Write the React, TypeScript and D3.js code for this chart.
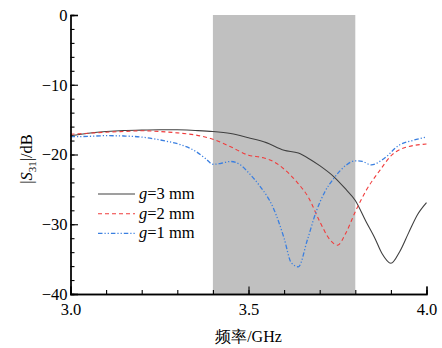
import * as d3 from "d3";
import { useEffect, useRef } from "react";

// frequency (GHz) / |S31| (dB)
const freqG3 = [3.0, 3.05, 3.1, 3.15, 3.2, 3.25, 3.3, 3.35, 3.4, 3.45, 3.5, 3.55, 3.6, 3.64, 3.67, 3.7, 3.74, 3.77, 3.8, 3.83, 3.855, 3.875, 3.9, 3.925, 3.95, 3.975, 4.0];
const s31G3 = [-17.3, -16.95, -16.7, -16.55, -16.5, -16.45, -16.45, -16.55, -16.7, -17.0, -17.6, -18.3, -19.4, -19.8, -20.6, -21.6, -23.2, -24.8, -26.6, -29.6, -32.0, -34.2, -35.6, -33.9, -31.2, -28.6, -26.9];

const freqG2 = [3.0, 3.05, 3.1, 3.15, 3.2, 3.25, 3.3, 3.35, 3.4, 3.45, 3.5, 3.54, 3.57, 3.6, 3.635, 3.67, 3.7, 3.73, 3.75, 3.775, 3.8, 3.83, 3.87, 3.9, 3.94, 4.0];
const s31G2 = [-17.1, -16.95, -16.8, -16.7, -16.6, -16.7, -16.9, -17.2, -17.8, -18.9, -20.1, -20.45, -21.0, -22.1, -23.9, -26.3, -29.6, -32.3, -33.0, -31.1, -28.2, -25.2, -22.2, -20.2, -19.0, -18.5];

const freqG1 = [3.0, 3.05, 3.1, 3.15, 3.2, 3.24, 3.27, 3.31, 3.35, 3.38, 3.4, 3.42, 3.45, 3.48, 3.5, 3.53, 3.57, 3.6, 3.62, 3.64, 3.665, 3.69, 3.715, 3.74, 3.775, 3.8, 3.82, 3.845, 3.88, 3.925, 3.96, 4.0];
const s31G1 = [-17.45, -17.4, -17.3, -17.35, -17.5, -17.8, -18.1, -18.6, -19.5, -20.6, -21.4, -21.3, -21.0, -21.6, -22.6, -24.4, -27.7, -32.0, -35.5, -36.1, -32.3, -28.2, -25.3, -23.4, -21.5, -20.9, -21.0, -21.5, -20.6, -18.6, -18.0, -17.5];

const seriesNames = ["3", "2", "1"];
const band = [3.4, 3.8];
const xTicks = [3.0, 3.5, 4.0];
const yTicks = [0, -10, -20, -30, -40];

const FONT = "Liberation Serif, serif";

export default function App() {
  const ref = useRef<SVGSVGElement | null>(null);

  useEffect(() => {
    if (!ref.current) return;
    const svg = d3.select(ref.current);
    svg.selectAll("*").remove();

    const left = 70.5, right = 426.5, top = 15, bottom = 294;
    const x = d3.scaleLinear().domain([3.0, 4.0]).range([left, right]);
    const y = d3.scaleLinear().domain([-40, 0]).range([bottom, top]);

    // shaded band
    svg
      .append("rect")
      .attr("x", x(band[0]))
      .attr("y", y(0))
      .attr("width", x(band[1]) - x(band[0]))
      .attr("height", y(-40) - y(0))
      .attr("fill", "#c0c0c0");

    const series = [
      { f: freqG3, v: s31G3, color: "#404040", dash: null as string | null, width: 1.1 },
      { f: freqG2, v: s31G2, color: "#f03c3c", dash: "4,3", width: 1.1 },
      { f: freqG1, v: s31G1, color: "#3a7fe0", dash: "4.5,2,1.2,2,1.2,2", width: 1.3 },
    ];

    const line = d3
      .line<[number, number]>()
      .x((d) => x(d[0]))
      .y((d) => y(d[1]))
      .curve(d3.curveMonotoneX);

    series.forEach((s) => {
      const pts = s.f.map((f, i) => [f, s.v[i]] as [number, number]);
      svg
        .append("path")
        .attr("d", line(pts))
        .attr("fill", "none")
        .attr("stroke", s.color)
        .attr("stroke-width", s.width)
        .attr("stroke-dasharray", s.dash);
    });

    // axes
    const gx = svg.append("g").attr("transform", `translate(0,${bottom})`);
    gx.call(
      d3.axisBottom(x).tickValues(d3.range(3.0, 4.001, 0.1)).tickSize(-4).tickFormat(() => "")
    );
    gx.call((g) =>
      g
        .append("g")
        .call(
          d3
            .axisBottom(x)
            .tickValues(xTicks)
            .tickSize(-7.5)
            .tickPadding(9)
            .tickFormat((d) => d3.format(".1f")(d as number))
        )
    );

    const gy = svg.append("g").attr("transform", `translate(${left},0)`);
    gy.call(
      d3.axisLeft(y).tickValues(d3.range(-40, 0.001, 2)).tickSize(-4).tickFormat(() => "")
    );
    gy.call((g) =>
      g
        .append("g")
        .call(
          d3
            .axisLeft(y)
            .tickValues(yTicks)
            .tickSize(-7.5)
            .tickPadding(3)
            .tickFormat((d) => ((d as number) < 0 ? "\u2212" + Math.abs(d as number) : String(d)))
        )
    );

    svg.selectAll("g").attr("font-family", FONT);
    svg.selectAll(".domain").attr("stroke", "#000").attr("stroke-width", 1.3);
    svg.selectAll(".tick line").attr("stroke", "#000").attr("stroke-width", 1.1);
    svg
      .selectAll(".tick text")
      .attr("fill", "#000")
      .attr("font-family", FONT)
      .attr("font-size", 16.5);

    // axis titles
    svg
      .append("text")
      .attr("x", (left + right) / 2)
      .attr("y", 342)
      .attr("text-anchor", "middle")
      .attr("font-family", FONT)
      .attr("font-size", 16)
      .text("频率/GHz");

    const yt = svg
      .append("text")
      .attr("transform", `translate(32,159) rotate(-90)`)
      .attr("text-anchor", "middle")
      .attr("font-family", FONT)
      .attr("font-size", 16.5);
    yt.append("tspan").text("|");
    yt.append("tspan").attr("font-style", "italic").text("S");
    yt.append("tspan").attr("dy", 4).attr("font-size", 11).text("31");
    yt.append("tspan").attr("dy", -4).text("|/dB");

    // legend
    const lg = svg.append("g").attr("font-family", FONT);
    series.forEach((s, i) => {
      const ly = 194 + i * 19.7;
      lg.append("line")
        .attr("x1", 98)
        .attr("x2", 135)
        .attr("y1", ly)
        .attr("y2", ly)
        .attr("stroke", s.color)
        .attr("stroke-width", s.width)
        .attr("stroke-dasharray", s.dash);
      const t = lg
        .append("text")
        .attr("x", 139)
        .attr("y", ly + 5)
        .attr("font-size", 16.5);
      t.append("tspan").attr("font-style", "italic").text("g");
      t.append("tspan").text(`=${seriesNames[i]} mm`);
    });
  }, []);

  return (
    <svg
      ref={ref}
      width={442}
      height={348}
      style={{ position: "absolute", left: 0, top: 0, background: "#fff" }}
    ></svg>
  );
}
